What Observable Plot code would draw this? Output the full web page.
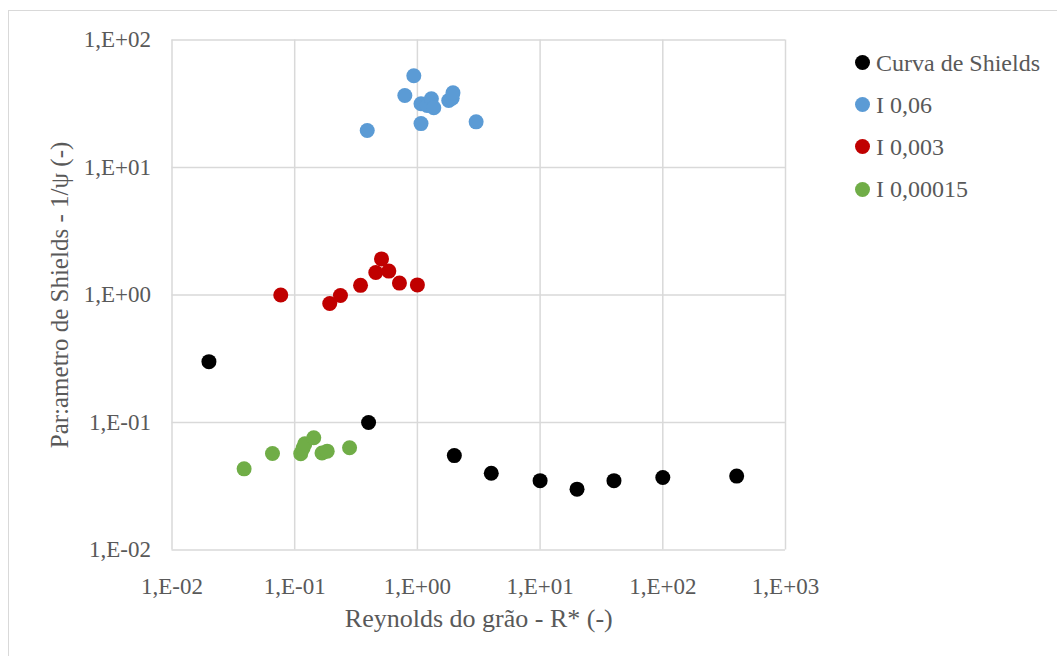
<!DOCTYPE html>
<html>
<head>
<meta charset="utf-8">
<script src="https://cdn.jsdelivr.net/npm/d3@7"></script>
<script src="https://cdn.jsdelivr.net/npm/@observablehq/plot@0.6"></script>
<style>
  html, body { margin: 0; padding: 0; background: #fff; overflow: hidden; }
  #wrap { position: relative; width: 1057px; height: 656px; }
  #wrap, #wrap * { font-family: 'Liberation Serif' !important; }
  #frame { position: absolute; left: 8px; top: 10px; width: 1200px; height: 800px;
           border-left: 1.5px solid #d9d9d9; border-top: 1.5px solid #d9d9d9; box-sizing: border-box; }
  #chart { position: absolute; left: 0; top: 0; }
  #legend { position: absolute; left: 855px; top: 41.7px; font-size: 24px; color: #595959; }
  .row { display: flex; align-items: center; height: 42.1px; line-height: 42.1px; white-space: nowrap; }
  .sw { width: 15px; height: 15px; border-radius: 50%; margin-right: 6px; flex: none; }
</style>
</head>
<body>
<div id="wrap">
  <div id="frame"></div>
  <div id="chart"></div>
  <div id="legend"></div>
</div>
<script>
// Axis ticks and their labels
const xTicks = [1e-2, 1e-1, 1, 10, 100, 1000];
const xTickLabels = ["1,E-02", "1,E-01", "1,E+00", "1,E+01", "1,E+02", "1,E+03"];
const yTicks = [1e-2, 1e-1, 1, 10, 100];
const yTickLabels = ["1,E-02", "1,E-01", "1,E+00", "1,E+01", "1,E+02"];

// Series names and colours
const seriesNames = ["Curva de Shields", "I 0,06", "I 0,003", "I 0,00015"];
const seriesColors = ["#000000", "#5b9bd5", "#c00000", "#70ad47"];

// Curva de Shields
const shieldsR = [0.02, 0.4, 2, 4, 10, 20, 40, 100, 400];
const shieldsPsi = [0.3, 0.1, 0.055, 0.04, 0.035, 0.03, 0.035, 0.037, 0.038];

// I 0,06
const i006R = [0.39, 0.79, 0.935, 1.07, 1.07, 1.20, 1.30, 1.36, 1.80, 1.92, 1.95, 3.01];
const i006Psi = [19.5, 36.7, 52.4, 31.6, 22.1, 30.6, 34.6, 29.4, 33.5, 35.0, 38.5, 22.8];

// I 0,003
const i0003R = [0.077, 0.193, 0.236, 0.344, 0.458, 0.51, 0.585, 0.714, 1.0];
const i0003Psi = [1.0, 0.857, 0.99, 1.19, 1.50, 1.92, 1.54, 1.24, 1.20];

// I 0,00015
const i000015R = [0.0387, 0.0659, 0.112, 0.117, 0.121, 0.143, 0.167, 0.184, 0.28];
const i000015Psi = [0.0433, 0.0571, 0.057, 0.063, 0.068, 0.0759, 0.0576, 0.0596, 0.0634];

const seriesR = [shieldsR, i006R, i0003R, i000015R];
const seriesPsi = [shieldsPsi, i006Psi, i0003Psi, i000015Psi];

const points = seriesNames.flatMap((name, s) =>
  seriesR[s].map((r, i) => ({series: name, r, psi: seriesPsi[s][i]}))
);

const fontFamily = "Liberation Serif";
const textColor = "#595959";
const gridColor = "#d9d9d9";

const chart = Plot.plot({
  width: 1057,
  height: 656,
  marginLeft: 171.5,
  marginRight: 272,
  marginTop: 39.5,
  marginBottom: 106.5,
  style: {fontFamily: "'Liberation Serif'", background: "transparent", overflow: "visible"},
  x: {type: "log", domain: [1e-2, 1e3], nice: false},
  y: {type: "log", domain: [1e-2, 1e2], nice: false},
  color: {domain: seriesNames, range: seriesColors},
  marks: [
    Plot.gridX(xTicks, {stroke: gridColor, strokeOpacity: 1, strokeWidth: 1.5}),
    Plot.gridY(yTicks, {stroke: gridColor, strokeOpacity: 1, strokeWidth: 1.5}),
    Plot.axisX({
      ticks: xTicks, tickSize: 0, tickPadding: 28, label: null,
      tickFormat: (d) => xTickLabels[xTicks.indexOf(d)],
      fontSize: 23, fill: textColor, fontFamily
    }),
    Plot.axisY({
      ticks: yTicks, tickSize: 0, tickPadding: 21, label: null,
      tickFormat: (d) => yTickLabels[yTicks.indexOf(d)],
      fontSize: 23, fill: textColor, fontFamily
    }),
    Plot.dot(points, {x: "r", y: "psi", fill: "series", r: 7.5, stroke: null}),
    Plot.text(["Reynolds do grão - R* (-)"], {
      frameAnchor: "bottom", dy: 77, fontSize: 26, fill: textColor, fontFamily
    }),
    Plot.text(["Par:ametro de Shields - 1/ψ (-)"], {
      frameAnchor: "left", textAnchor: "middle", dx: -112, rotate: -90,
      fontSize: 25, fill: textColor, fontFamily
    })
  ]
});
document.getElementById("chart").appendChild(chart);

// Legend
const legend = document.getElementById("legend");
seriesNames.forEach((name, i) => {
  const row = document.createElement("div");
  row.className = "row";
  const sw = document.createElement("span");
  sw.className = "sw";
  sw.style.background = seriesColors[i];
  const label = document.createElement("span");
  label.textContent = name;
  row.appendChild(sw);
  row.appendChild(label);
  legend.appendChild(row);
});
</script>
</body>
</html>
